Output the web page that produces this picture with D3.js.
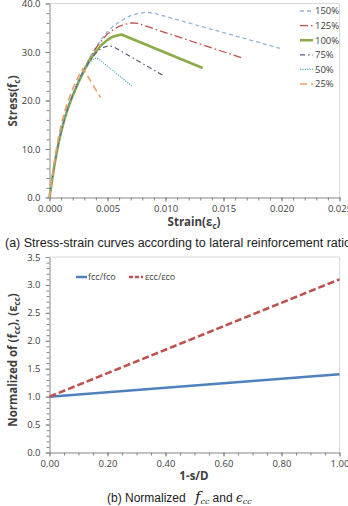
<!DOCTYPE html>
<html><head><meta charset="utf-8">
<script src="https://cdn.jsdelivr.net/npm/d3@7"></script>
<style>
html,body{margin:0;padding:0;background:#fff;}
svg{display:block;}
</style></head>
<body>
<svg id="c" width="348" height="506"></svg>
<script>
// ---------- Chart (a) data ----------
const strainTicks = [0, 0.005, 0.010, 0.015, 0.020, 0.025];
const stressTicks = [0, 10, 20, 30, 40];
const seriesNames = ["150%", "125%", "100%", "75%", "50%", "25%"];
const curve150 = [[0,0],[0.0002,3.2],[0.0004,6.3],[0.0006,9.0],[0.0008,11.4],[0.001,13.5],[0.0013,16.2],[0.0016,18.5],[0.002,21.0],[0.0025,24.0],[0.003,26.6],[0.0035,29.0],[0.004,31.0],[0.0045,32.7],[0.005,34.2],[0.0055,35.3],[0.006,36.2],[0.0065,36.9],[0.007,37.5],[0.0076,37.9],[0.0083,38.2],[0.009,38.0],[0.0201,30.6]];
const curve125 = [[0,0],[0.0002,3.2],[0.0004,6.3],[0.0006,9.0],[0.0008,11.4],[0.001,13.5],[0.0013,16.2],[0.0016,18.5],[0.002,21.0],[0.0025,23.9],[0.003,26.5],[0.0035,28.8],[0.004,30.8],[0.0045,32.4],[0.005,33.7],[0.0055,34.6],[0.006,35.3],[0.0065,35.7],[0.0071,36.0],[0.0076,35.9],[0.0167,28.7]];
const curve100 = [[0,0],[0.0002,3.2],[0.0004,6.3],[0.0006,9.0],[0.0008,11.4],[0.001,13.5],[0.0013,16.2],[0.0016,18.5],[0.002,21.0],[0.0025,23.8],[0.003,26.3],[0.0035,28.4],[0.004,30.1],[0.0045,31.5],[0.005,32.5],[0.0055,33.2],[0.0062,33.6],[0.0132,26.7]];
const curve75 = [[0,0],[0.0002,3.3],[0.0004,6.4],[0.0006,9.1],[0.0008,11.5],[0.001,13.6],[0.0013,16.3],[0.0016,18.6],[0.002,21.1],[0.0025,23.9],[0.003,26.4],[0.0035,28.3],[0.004,29.8],[0.0045,30.8],[0.0051,31.3],[0.0055,31.1],[0.0099,25.0]];
const curve50 = [[0,0],[0.0002,3.4],[0.0004,6.6],[0.0006,9.3],[0.0008,11.7],[0.001,13.8],[0.0013,16.5],[0.0016,18.8],[0.002,21.3],[0.0025,23.9],[0.003,26.2],[0.0035,27.9],[0.0039,28.7],[0.0042,28.6],[0.0071,23.0]];
const curve25 = [[0,0],[0.0002,3.7],[0.0004,7.1],[0.0006,10.1],[0.0008,12.7],[0.001,14.9],[0.0013,17.7],[0.0016,19.9],[0.002,22.4],[0.0025,25.0],[0.0029,26.6],[0.0044,20.6]];

// ---------- Chart (b) data ----------
const ratioTicks = [0, 0.2, 0.4, 0.6, 0.8, 1.0];
const normTicks = [0, 0.5, 1.0, 1.5, 2.0, 2.5, 3.0, 3.5];
const sdRatio = [0, 0.2, 0.4, 0.6, 0.8, 1.0];
const fccNorm = [1.00, 1.08, 1.16, 1.24, 1.32, 1.40];
const eccNorm = [1.00, 1.42, 1.84, 2.26, 2.68, 3.10];
const legendB = ["fcc/fco", "εcc/εco"];

// ---------- styles ----------
const stylesA = [
  {color:"#95B3D7", width:1.3, dash:"4,3"},
  {color:"#C0504D", width:1.3, dash:"8,3,1.5,3"},
  {color:"#8CAB48", width:2.6, dash:null},
  {color:"#5B5683", width:1.2, dash:"5,3,1.5,3"},
  {color:"#4BACC6", width:1.1, dash:"1.2,1.2"},
  {color:"#EFA06A", width:1.6, dash:"7,4"}
];
const curvesA = [curve150, curve125, curve100, curve75, curve50, curve25];

const svg = d3.select("#c");
const tickFont = "'Open Sans', sans-serif";
const axisCol = "#868686";
const borderCol = "#D9D9D9";
const labelCol = "#404040";

function frame(g, x, y) {
  const [x0, x1] = x.range(), [y0, y1] = y.range();
  g.append("path").attr("d", `M${x0},${y1}H${x1}V${y0}`)
    .attr("fill","none").attr("stroke",borderCol).attr("stroke-width",1);
}

function axes(g, x, y, xT, yT, xMinor, yMinor, xFmt, yFmt) {
  const [x0] = x.range(), [y0] = y.range();
  g.append("g").attr("transform",`translate(0,${y0})`)
    .call(d3.axisBottom(x).tickValues(xMinor).tickSize(3).tickFormat(""))
    .call(s => s.select(".domain").remove())
    .call(s => s.selectAll("line").attr("stroke",axisCol));
  g.append("g").attr("transform",`translate(${x0},0)`)
    .call(d3.axisLeft(y).tickValues(yMinor).tickSize(3).tickFormat(""))
    .call(s => s.select(".domain").remove())
    .call(s => s.selectAll("line").attr("stroke",axisCol));
  const gx = g.append("g").attr("transform",`translate(0,${y0})`)
    .call(d3.axisBottom(x).tickValues(xT).tickSize(4).tickPadding(4).tickFormat(xFmt).tickSizeOuter(0));
  gx.select(".domain").attr("stroke",axisCol);
  gx.selectAll("line").attr("stroke",axisCol);
  gx.selectAll("text").attr("font-family",tickFont).attr("font-size","9.5px").attr("fill","#404040");
  const gy = g.append("g").attr("transform",`translate(${x0},0)`)
    .call(d3.axisLeft(y).tickValues(yT).tickSize(4).tickPadding(5).tickFormat(yFmt).tickSizeOuter(0));
  gy.select(".domain").attr("stroke",axisCol);
  gy.selectAll("line").attr("stroke",axisCol);
  gy.selectAll("text").attr("font-family",tickFont).attr("font-size","9.5px").attr("fill","#404040");
}

// ===== Chart (a) =====
const xA = d3.scaleLinear().domain([0, 0.025]).range([49.5, 339.5]);
const yA = d3.scaleLinear().domain([0, 40]).range([197.5, 3.5]);
const gA = svg.append("g");
frame(gA, xA, yA);
axes(gA, xA, yA, strainTicks, stressTicks,
     d3.range(0, 26).map(i => i * 0.001), d3.range(0, 21).map(i => i * 2),
     d3.format(".3f"), d3.format(".1f"));

const lineA = d3.line().x(d => xA(d[0])).y(d => yA(d[1]));
curvesA.forEach((c, i) => {
  const st = stylesA[i];
  gA.append("path").datum(c).attr("d", lineA)
    .attr("fill","none").attr("stroke",st.color).attr("stroke-width",st.width)
    .attr("stroke-dasharray",st.dash).attr("stroke-linejoin","round");
});

const legA = gA.append("g");
seriesNames.forEach((n, i) => {
  const yy = 11 + i * 14.6;
  const st = stylesA[i];
  legA.append("line").attr("x1",300).attr("x2",313).attr("y1",yy).attr("y2",yy)
    .attr("stroke",st.color).attr("stroke-width",st.width).attr("stroke-dasharray",st.dash);
  legA.append("text").attr("x",315).attr("y",yy).attr("dy","0.35em")
    .attr("font-family",tickFont).attr("font-size","9.5px").attr("fill","#404040").text(n);
});

const tyA = gA.append("text").attr("transform","translate(17,101) rotate(-90)")
  .attr("text-anchor","middle").attr("font-family",tickFont).attr("font-weight","bold")
  .attr("font-size","11.5px").attr("fill",labelCol);
tyA.append("tspan").text("Stress(f");
tyA.append("tspan").attr("font-size","8px").attr("dy","3").text("c");
tyA.append("tspan").attr("dy","-3").text(")");

const txA = gA.append("text").attr("x",194).attr("y",226)
  .attr("text-anchor","middle").attr("font-family",tickFont).attr("font-weight","bold")
  .attr("font-size","11.5px").attr("fill",labelCol);
txA.append("tspan").text("Strain(ε");
txA.append("tspan").attr("font-size","8px").attr("dy","3").text("c");
txA.append("tspan").attr("dy","-3").text(")");

svg.append("text").attr("x",5).attr("y",247)
  .attr("font-family","'Liberation Sans', Arial, sans-serif").attr("font-size","12.5px")
  .attr("fill","#222").text("(a) Stress-strain curves according to lateral reinforcement ratio");

// ===== Chart (b) =====
const xB = d3.scaleLinear().domain([0, 1]).range([49.5, 339.5]);
const yB = d3.scaleLinear().domain([0, 3.5]).range([452.5, 257]);
const gB = svg.append("g");
frame(gB, xB, yB);
axes(gB, xB, yB, ratioTicks, normTicks,
     d3.range(0, 21).map(i => i * 0.05), d3.range(0, 36).map(i => i * 0.1),
     d3.format(".2f"), d3.format(".1f"));

const lineB = d3.line().x((d, i) => xB(sdRatio[i])).y(d => yB(d));
gB.append("path").datum(fccNorm).attr("d", lineB)
  .attr("fill","none").attr("stroke","#4F81BD").attr("stroke-width",2.5);
gB.append("path").datum(eccNorm).attr("d", lineB)
  .attr("fill","none").attr("stroke","#C0504D").attr("stroke-width",2.5).attr("stroke-dasharray","7,3");

const ly = 277;
gB.append("line").attr("x1",76).attr("x2",87).attr("y1",ly).attr("y2",ly)
  .attr("stroke","#4F81BD").attr("stroke-width",2.5);
gB.append("text").attr("x",88).attr("y",ly).attr("dy","0.35em")
  .attr("font-family",tickFont).attr("font-size","9px").attr("fill","#404040").text(legendB[0]);
gB.append("line").attr("x1",129).attr("x2",143).attr("y1",ly).attr("y2",ly)
  .attr("stroke","#C0504D").attr("stroke-width",2.5).attr("stroke-dasharray","4,2");
gB.append("text").attr("x",145).attr("y",ly).attr("dy","0.35em")
  .attr("font-family",tickFont).attr("font-size","9px").attr("fill","#404040").text(legendB[1]);

const tyB = gB.append("text").attr("transform","translate(17,360) rotate(-90)")
  .attr("text-anchor","middle").attr("font-family",tickFont).attr("font-weight","bold")
  .attr("font-size","11.5px").attr("fill",labelCol);
tyB.append("tspan").text("Normalized of (f");
tyB.append("tspan").attr("font-size","8px").attr("dy","3").text("cc");
tyB.append("tspan").attr("dy","-3").text("), (ε");
tyB.append("tspan").attr("font-size","8px").attr("dy","3").text("cc");
tyB.append("tspan").attr("dy","-3").text(")");

gB.append("text").attr("x",194).attr("y",480)
  .attr("text-anchor","middle").attr("font-family",tickFont).attr("font-weight","bold")
  .attr("font-size","11.5px").attr("fill",labelCol).text("1-s/D");

const cap = svg.append("text").attr("x",107).attr("y",502)
  .attr("font-family","'Liberation Sans', Arial, sans-serif").attr("font-size","12px").attr("fill","#222");
cap.append("tspan").text("(b) Normalized ");
cap.append("tspan").attr("dx","6").attr("font-family","'DejaVu Serif', serif").attr("font-style","italic").attr("font-size","15px").text("f");
cap.append("tspan").attr("font-family","'DejaVu Serif', serif").attr("font-style","italic").attr("font-size","8px").attr("dy","2").text("cc");
cap.append("tspan").attr("dy","-2").attr("dx","3").text("and ");
cap.append("tspan").attr("font-family","'DejaVu Serif', serif").attr("font-style","italic").attr("font-size","12px").text("ϵ");
cap.append("tspan").attr("font-family","'DejaVu Serif', serif").attr("font-style","italic").attr("font-size","8px").attr("dy","2").text("cc");
</script>
</body></html>
